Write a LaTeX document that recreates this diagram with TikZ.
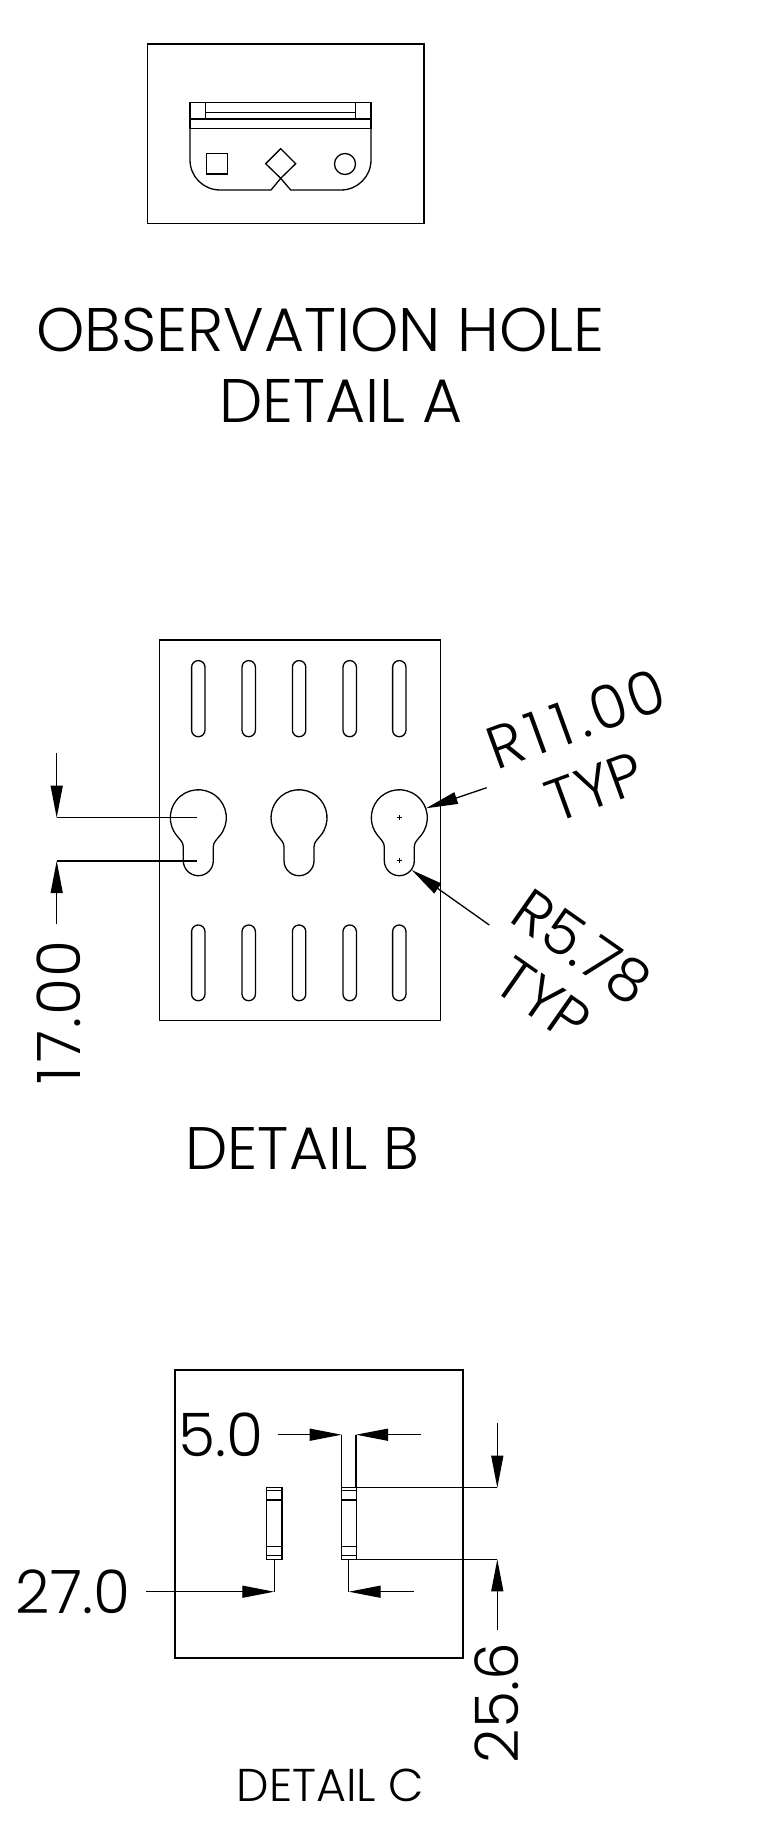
\documentclass[tikz,border=0pt]{standalone}
\usepackage{fontspec}
\setmainfont{Poppins Light}
\usetikzlibrary{arrows.meta}
\tikzset{
  outline/.style={draw=black,line width=1.3},
  dimline/.style={draw=black,line width=1.3},
  dimarrow/.style={dimline,-{Triangle[length=32,width=12]}},
  bigtext/.style={inner sep=0,font=\fontsize{60}{60}\selectfont},
  titletext/.style={inner sep=0,font=\fontsize{61.5}{62}\selectfont},
  smalltext/.style={inner sep=0,font=\fontsize{46}{46}\selectfont}
}
\begin{document}
\begin{tikzpicture}[x=1pt,y=1pt,yscale=-1]
\useasboundingbox (0,0) rectangle (761,1830);

% detail A
\draw[outline] (147.7,44) rectangle (424,223.7);
\draw[outline] (190,102.7) rectangle (371,128.7);
\draw[outline] (190,119) -- (371,119);
\draw[outline] (205.7,102.7) -- (205.7,119);
\draw[outline] (355.7,102.7) -- (355.7,119);
\draw[outline] (205.7,112.7) -- (355.7,112.7);
\draw[outline] (190,128.7) -- (190,160) arc(180:90:30) -- (271,190) -- (280.7,178.3) -- (295.7,163.7) -- (280.7,148.7) -- (265.7,163.7) -- (280.7,178.3) -- (290.7,190) -- (341,190) arc(90:0:30) -- (371,128.7);
\draw[outline] (206.3,153.3) rectangle (227.7,174);
\draw[outline] (345,164) circle(10.5);

\node[titletext] (titleA) at (320.4,330) {OBSERVATION HOLE};
\node[titletext] (nameA) at (341,401) {DETAIL A};

% detail B
\draw[outline] (159.3,640) rectangle (440.7,1020.7);

\draw[outline,rounded corners=6.6] (191.6,660.6) rectangle (205,736.7);
\draw[outline,rounded corners=6.6] (242,660.6) rectangle (255.4,736.7);
\draw[outline,rounded corners=6.6] (292.4,660.6) rectangle (305.8,736.7);
\draw[outline,rounded corners=6.6] (343,660.6) rectangle (356.4,736.7);
\draw[outline,rounded corners=6.6] (392.6,660.6) rectangle (406,736.7);
\draw[outline,rounded corners=6.6] (191.6,925) rectangle (205,1000.7);
\draw[outline,rounded corners=6.6] (242,925) rectangle (255.4,1000.7);
\draw[outline,rounded corners=6.6] (292.4,925) rectangle (305.8,1000.7);
\draw[outline,rounded corners=6.6] (343,925) rectangle (356.4,1000.7);
\draw[outline,rounded corners=6.6] (392.6,925) rectangle (406,1000.7);

\draw[outline,shift={(198.3,817.7)}] (21.9,17.5) arc(38.6:-218.6:28) .. controls (-18.5,21.8) and (-15,24.5) .. (-15,29) -- (-15,43) arc(180:0:15) -- (15,29) .. controls (15,24.5) and (18.5,21.8) .. (21.9,17.5);
\draw[outline,shift={(299,817.7)}] (21.9,17.5) arc(38.6:-218.6:28) .. controls (-18.5,21.8) and (-15,24.5) .. (-15,29) -- (-15,43) arc(180:0:15) -- (15,29) .. controls (15,24.5) and (18.5,21.8) .. (21.9,17.5);
\draw[outline,shift={(399.3,817.7)}] (21.9,17.5) arc(38.6:-218.6:28) .. controls (-18.5,21.8) and (-15,24.5) .. (-15,29) -- (-15,43) arc(180:0:15) -- (15,29) .. controls (15,24.5) and (18.5,21.8) .. (21.9,17.5);

\draw[outline] (396.8,817.7) -- (401.8,817.7) (399.3,815.2) -- (399.3,820.2);
\draw[outline] (396.8,860.7) -- (401.8,860.7) (399.3,858.2) -- (399.3,863.2);

\draw[dimline] (56.7,817.7) -- (197.3,817.7);
\draw[dimline] (56.7,861) -- (197.3,861);
\draw[dimarrow] (56.7,753.3) -- (56.7,817.7);
\draw[dimarrow] (56.7,924) -- (56.7,861);
\draw[dimarrow] (486.7,787.7) -- (426,808.3);
\draw[dimarrow] (489.3,925) -- (411.7,870);

\node[bigtext,rotate=90] (dimB) at (58.5,1012.5) {1\kern5pt 7\kern2pt.\kern2pt0\kern1pt 0};
\node[bigtext,rotate=20] (radbig) at (576,719) {R\kern6pt 1\kern10pt 1\kern7pt.\kern4pt 0\kern2pt 0};
\node[bigtext,rotate=20] (radbigtyp) at (595,787) {TYP};
\node[bigtext,rotate=-35] (radsmall) at (582,947) {R5.78};
\node[bigtext,rotate=-35] (radsmalltyp) at (543,1000) {TYP};
\node[bigtext] (nameB) at (302.5,1148) {DETAIL B};

% detail C
\draw[outline] (175,1370) rectangle (463,1658);

\draw[outline] (266.7,1487.7) rectangle (282,1559.3);
\draw[outline] (266.7,1490.7) -- (282,1490.7);
\draw[outline] (266.7,1500) -- (282,1500);
\draw[outline] (266.7,1546.7) -- (282,1546.7);
\draw[outline] (266.7,1555.7) -- (282,1555.7);
\draw[outline] (341.7,1487.7) rectangle (356.3,1559.3);
\draw[outline] (341.7,1490.7) -- (356.3,1490.7);
\draw[outline] (341.7,1500) -- (356.3,1500);
\draw[outline] (341.7,1546.7) -- (356.3,1546.7);
\draw[outline] (341.7,1555.7) -- (356.3,1555.7);

\draw[dimline] (341.7,1434.7) -- (341.7,1487.7);
\draw[dimline] (356,1434.7) -- (356,1487.7);
\draw[dimarrow] (277.7,1434.7) -- (341.7,1434.7);
\draw[dimarrow] (420.7,1434.7) -- (356,1434.7);

\draw[dimline] (356.3,1487.7) -- (497.3,1487.7);
\draw[dimline] (356.3,1559.3) -- (497.3,1559.3);
\draw[dimarrow] (497.3,1423.3) -- (497.3,1487.7);
\draw[dimarrow] (497.3,1630) -- (497.3,1559.3);

\draw[dimline] (274.3,1559.3) -- (274.3,1591.7);
\draw[dimline] (348.7,1559.3) -- (348.7,1591.7);
\draw[dimarrow] (146,1591.7) -- (274.3,1591.7);
\draw[dimarrow] (413.7,1591.7) -- (348.7,1591.7);

\node[bigtext] (dimwidth) at (221,1435) {5.0};
\node[bigtext] (dimoffset) at (73,1592) {27.0};
\node[bigtext,rotate=90] (dimheight) at (497,1703) {25.6};
\node[smalltext] (nameC) at (330.5,1785) {DETAIL C};

\end{tikzpicture}
\end{document}
